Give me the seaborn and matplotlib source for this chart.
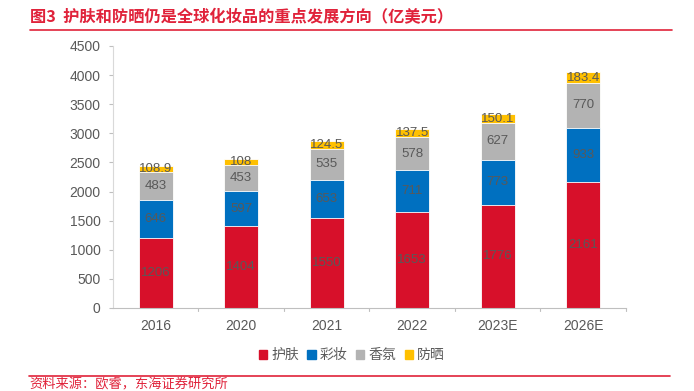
import numpy as np
import pandas as pd
import seaborn as sns
import matplotlib.pyplot as plt
from matplotlib.patches import Patch

# data (亿美元)
years = ['2016', '2020', '2021', '2022', '2023E', '2026E']
skincare = [1206, 1404, 1550, 1653, 1776, 2161]
makeup = [646, 597, 653, 711, 773, 933]
fragrance = [483, 453, 535, 578, 627, 770]
suncare = [108.9, 108, 124.5, 137.5, 150.1, 183.4]
series_names = ['护肤', '彩妆', '香氛', '防晒']
colors = ['#D7102A', '#0070C0', '#B3B3B3', '#FFC000']

sns.set_style('white')
plt.rcParams['font.family'] = ['Liberation Sans', 'Noto Sans CJK SC', 'DejaVu Sans']

df = pd.DataFrame({'year': years, '护肤': skincare, '彩妆': makeup,
                   '香氛': fragrance, '防晒': suncare})
cum = df[series_names].cumsum(axis=1)

fig = plt.figure(figsize=(6.94, 3.91), dpi=100)
ax = fig.add_axes([0.1628, 0.2123, 0.7392, 0.6701])

# stacked bars: draw cumulative totals from the top layer down
for name, col in reversed(list(zip(series_names, colors))):
    sns.barplot(x=df['year'], y=cum[name], color=col, width=0.4,
                saturation=1, ax=ax, linewidth=0.6, edgecolor='white')

# value labels
for i in range(len(years)):
    base = 0
    for name in series_names:
        v = df[name][i]
        ax.text(i, base + v / 2, f'{v:g}', ha='center', va='center',
                fontsize=9.5, color='#595959')
        base += v

ax.set_ylim(0, 4500)
ax.set_yticks(np.arange(0, 4501, 500))
ax.set_xlim(-0.5, len(years) - 0.5)
ax.set_xlabel('')
ax.set_ylabel('')
ax.tick_params(axis='both', labelsize=10, colors='#BFBFBF')
ax.tick_params(axis='x', length=0, pad=8)
ax.tick_params(axis='y', length=3, width=0.8, pad=6, left=True)
for t in ax.get_xticklabels() + ax.get_yticklabels():
    t.set_color('#595959')
# excel-style category ticks between bars
for b in np.arange(0.5, len(years) - 0.5 + 1e-9, 1.0):
    ax.plot([b, b], [0, -55], color='#BFBFBF', lw=0.8, clip_on=False)
for s in ['top', 'right']:
    ax.spines[s].set_visible(False)
ax.spines['left'].set_color('#D9D9D9')
ax.spines['bottom'].set_color('#BFBFBF')
ax.spines['left'].set_linewidth(0.8)
ax.spines['bottom'].set_linewidth(0.8)

handles = [Patch(color=c, label=n) for n, c in zip(series_names, colors)]
fig.legend(handles=handles, loc='center', bbox_to_anchor=(0.507, 0.092), ncol=4,
           frameon=False, handlelength=0.6, handleheight=0.6,
           handletextpad=0.3, columnspacing=0.6,
           prop={'family': ['Noto Sans CJK SC'], 'size': 10}, labelcolor='#595959')

# title, rules and source
red = '#E0223A'
fig.text(0.043, 0.957, '图3  护肤和防晒仍是全球化妆品的重点发展方向（亿美元）',
         ha='left', va='center', fontsize=11.7, fontweight='bold', color=red,
         family=['Noto Sans CJK SC'])
fig.add_artist(plt.Line2D([0.043, 0.968], [0.922, 0.922], color=red, lw=1.2))
fig.add_artist(plt.Line2D([0.042, 0.965], [0.038, 0.038], color=red, lw=1.2))
fig.text(0.042, 0.016, '资料来源：欧睿，东海证券研究所', ha='left', va='center',
         fontsize=9.5, color=red, family=['Noto Sans CJK SC'])

fig.savefig('out.png', dpi=100)
